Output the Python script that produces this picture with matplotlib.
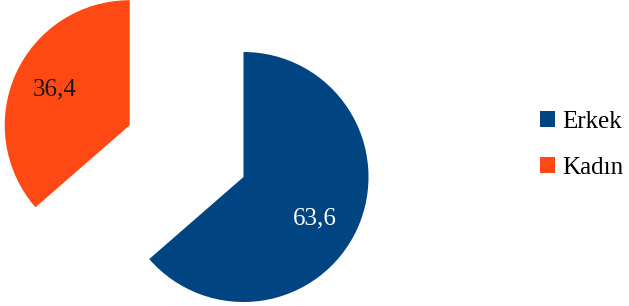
import matplotlib
matplotlib.use("Agg")
import matplotlib.pyplot as plt

labels = ["Erkek", "Kadın"]
values = [63.6, 36.4]
colors = ["#004482", "#FF4914"]
explode = [0.0, 1.0]

plt.rcParams["font.family"] = ["Liberation Serif", "DejaVu Serif"]

fig = plt.figure(figsize=(6.29, 3.06), dpi=100)
ax = fig.add_axes([0, 0, 1, 1])
wedges, _ = ax.pie(values, colors=colors, explode=explode, startangle=90,
                   counterclock=False, radius=1.0)

# value labels (comma decimal)
txt = [f"{v:.1f}".replace(".", ",") for v in values]
ax.text(0.57, -0.33, txt[0], color="white", fontsize=18, ha="center", va="center")
ax.text(-1.51, 0.70, txt[1], color="#1a1a1a", fontsize=18, ha="center", va="center")

ax.set_xlim(-1.948, 3.084)
ax.set_ylim(-1.032, 1.416)
ax.set_aspect("equal")
ax.axis("off")

fig.legend(wedges, labels, loc="center left", bbox_to_anchor=(0.858, 0.526),
           frameon=False, fontsize=18, handlelength=0.6, handleheight=0.6,
           handletextpad=0.3, labelspacing=0.95, borderpad=0, borderaxespad=0)

fig.savefig("out.png", dpi=100)
